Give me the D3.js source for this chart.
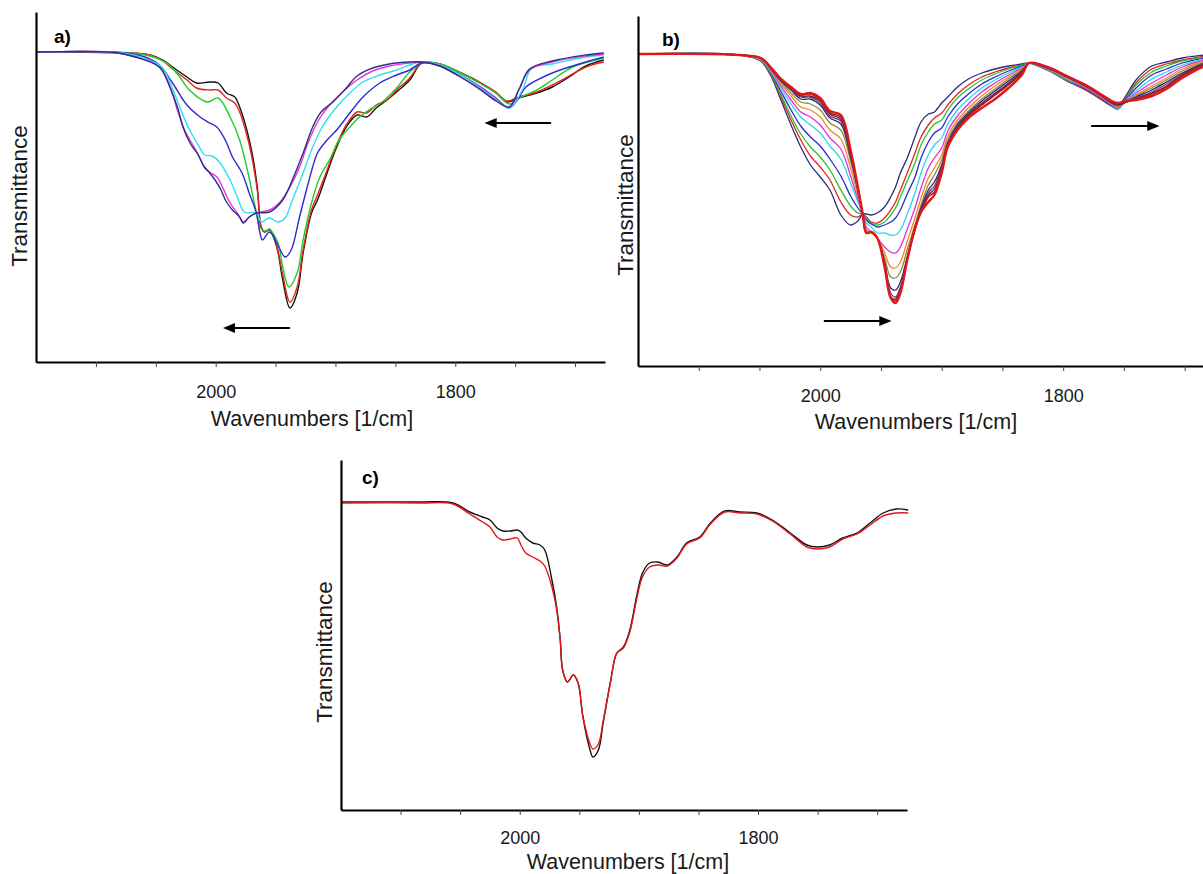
<!DOCTYPE html>
<html><head><meta charset="utf-8">
<script src="https://cdn.jsdelivr.net/npm/d3@7/dist/d3.min.js"></script>
<style>body{margin:0;background:#fff}svg{display:block;background:#fff}</style>
</head><body><svg id="c" width="1203" height="874"></svg>
<script>
// ---------- DATA (wavenumber [1/cm], transmittance in arbitrary units) ----------
const X_TICKS = [2100, 2050, 2000, 1950, 1900, 1850, 1800, 1750, 1700];
const X_LABELED = [2000, 1800];

// Panel a) – seven spectra
const A_BLACK = [[2150,310],[2072,309],[2055,307],[2044,302],[2036,295],[2024,285],[2016,279],[2005,280],[1998,279],[1991,269],[1984,265],[1980,255],[1974,232],[1969,205],[1965,172],[1962,135],[1959,130],[1955,132],[1949,115],[1944,82],[1938,54],[1932,69],[1927,109],[1920,149],[1915,162],[1907,189],[1899,215],[1891,235],[1882,247],[1874,245],[1866,254],[1857,262],[1849,270],[1838,282],[1828,299],[1813,298],[1797,290],[1780,280],[1766,269],[1757,260],[1747,264],[1732,269],[1719,275],[1705,285],[1691,296],[1676,302]];
const A_RED = [[2150,310],[2072,309],[2055,307],[2044,301],[2036,293],[2024,282],[2016,274],[2005,272],[1998,272],[1991,264],[1984,259],[1980,250],[1974,227],[1969,200],[1965,169],[1962,134],[1959,130],[1955,133],[1949,116],[1944,87],[1938,60],[1932,75],[1927,112],[1920,152],[1915,167],[1907,192],[1899,217],[1891,237],[1882,250],[1874,249],[1866,257],[1857,262],[1849,272],[1838,284],[1828,299],[1813,298],[1797,290],[1780,280],[1766,270],[1757,261],[1747,265],[1732,270],[1719,277],[1705,286],[1691,295],[1676,300]];
const A_GREEN = [[2150,310],[2076,309.5],[2055,306],[2041,299],[2030,285],[2022,272],[2007,260],[1998,264],[1988,245],[1980,222],[1973,189],[1967,155],[1963,135],[1959,131],[1955,132],[1948,119],[1944,95],[1939,75],[1932,89],[1927,122],[1920,159],[1913,185],[1905,202],[1897,222],[1888,235],[1880,245],[1872,252],[1861,260],[1849,274],[1838,290],[1828,299],[1813,298],[1797,290],[1780,279],[1766,269],[1755,258],[1747,264],[1732,272],[1719,282],[1702,295],[1676,304]];
const A_BLUE = [[2150,310],[2080,309.5],[2059,305],[2047,297],[2036,279],[2024,257],[2013,245],[2005,239],[1999,235],[1992,222],[1986,205],[1978,189],[1972,169],[1966,149],[1963,129],[1961,122],[1955,130],[1949,119],[1942,105],[1937,112],[1930,145],[1922,182],[1915,209],[1907,222],[1899,232],[1888,249],[1877,265],[1863,279],[1849,287],[1838,292],[1828,299],[1813,297],[1797,288],[1780,276],[1766,264],[1755,254],[1747,264],[1741,275],[1719,289],[1691,300],[1676,305]];
const A_CYAN = [[2150,310],[2082,309.5],[2063,305],[2045,295],[2038,279],[2030,255],[2023,235],[2016,220],[2009,207],[2003,206],[1997,200],[1988,182],[1982,165],[1976,150],[1966,149],[1962,140],[1955,144],[1948,140],[1942,144],[1936,162],[1927,189],[1919,215],[1911,235],[1899,255],[1888,269],[1877,280],[1863,287],[1849,292],[1838,297],[1828,300],[1813,297],[1797,288],[1780,275],[1766,263],[1755,254],[1744,272],[1736,294],[1719,298],[1691,305],[1676,307]];
const A_MAGENTA = [[2150,310],[2084,309.5],[2067,305],[2047,295],[2038,275],[2032,252],[2026,232],[2020,219],[2014,206],[2009,194],[2004,189],[1999,185],[1994,174],[1988,159],[1982,149],[1977,140],[1972,145],[1966,149],[1955,152],[1947,159],[1938,175],[1930,195],[1922,222],[1913,244],[1905,257],[1894,270],[1882,282],[1869,291],[1855,296],[1838,299],[1828,300],[1813,296],[1797,286],[1780,274],[1766,262],[1755,255],[1747,272],[1738,292],[1719,300],[1691,306],[1676,308]];
const A_NAVY = [[2150,310],[2084,309.5],[2067,305],[2047,295],[2038,274],[2032,255],[2027,234],[2021,218],[2015,208],[2010,196],[2005,189],[2000,181],[1996,173],[1991,160],[1986,152],[1980,145],[1977,139],[1972,145],[1966,149],[1955,150],[1944,162],[1936,182],[1927,209],[1919,235],[1912,250],[1902,260],[1891,274],[1882,286],[1869,294],[1855,298],[1838,300],[1828,300],[1813,296],[1797,286],[1780,273],[1766,261],[1755,255],[1747,272],[1738,293],[1719,301],[1691,307],[1676,309]];

// Panel b) – thirteen spectra on a shared wavenumber grid
const WN_B = [2150,2066,2049,2041,2033,2024,2016,2008,2000,1992,1983,1975,1969,1965,1962,1958,1953,1947,1942,1938,1934,1928,1922,1917,1911,1906,1900,1895,1887,1878,1867,1856,1845,1834,1828,1813,1797,1780,1768,1760,1755,1748,1740,1727,1715,1702,1683,1675];
const B01 = [312,311,305,291,268,241,219,201,189,176,151,141,145,152,152,151,153,159,169,179,193,209,229,244,252,254,263,269,279,287,293,297,300,302,303,296,285,275,266,260,259,271,286,300,304,308,311,312];
const B02 = [312,311,305,292,271,246,226,210,199,186,164,151,149,152,149,144,143,148,156,164,176,194,213,229,241,248,253,261,272,281,289,294,298,301,303,296,286,275,266,260,258,269,283,297,302,306,310,311];
const B03 = [312,311,306,293,273,250,232,219,209,196,176,160,153,152,148,143,141,144,151,158,169,186,203,221,234,242,246,256,268,277,286,292,297,301,303,296,286,276,267,260,257,268,281,294,300,305,309,310];
const B04 = [312,311,306,294,276,256,240,229,220,207,190,170,158,152,146,142,139,141,144,148,156,173,189,208,224,233,238,249,262,272,282,289,295,300,303,297,287,276,267,260,257,267,278,291,297,303,308,309];
const B05 = [312,311,306,295,279,262,249,241,233,220,207,183,164,152,143,139,133,133,131,131,136,153,173,193,211,221,228,242,256,267,278,286,293,299,303,297,287,277,268,261,257,266,275,287,294,301,307,308];
const B06 = [312,311,307,296,281,266,254,249,241,228,217,190,167,152,139,134,128,119,114,113,119,138,158,178,198,208,218,235,250,262,274,283,291,298,303,297,288,277,268,261,258,265,273,283,291,299,306,307];
const B07 = [312,311,307,297,283,270,259,256,249,236,227,198,171,152,136,133,128,113,99,98,104,126,148,168,188,198,211,230,246,258,270,280,289,297,303,298,288,278,269,262,259,264,271,280,288,297,305,306];
const B08 = [312,311,307,298,285,273,264,262,256,243,236,205,174,152,134,134,128,108,89,88,94,118,141,161,181,191,206,226,243,255,267,277,287,296,303,298,289,278,269,262,260,264,270,278,286,295,304,305];
const B09 = [312,311,308,298,286,276,267,267,261,248,242,209,176,152,133,134,128,104,78,76,84,111,138,158,176,184,201,223,241,253,265,275,285,295,303,298,289,279,270,263,261,264,269,276,284,293,303,304];
const B10 = [312,311,308,299,287,277,269,269,263,250,245,212,177,152,133,134,128,103,73,69,79,109,137,156,173,180,199,222,239,252,263,273,283,294,303,298,289,279,270,263,262,264,268,274,282,292,303,304];
const B11 = [312,311,308,299,287,278,270,270,265,252,247,213,178,152,133,134,128,101,69,67,77,109,136,155,171,177,197,221,238,251,262,272,282,294,303,299,290,279,270,264,262,264,267,273,280,291,302,303];
const B12 = [312,311,308,299,288,278,271,272,266,253,249,215,178,152,133,134,128,100,69,65,75,108,136,154,169,174,195,220,237,250,261,271,281,293,303,299,290,280,271,264,263,264,267,272,279,290,301,302];
const B13 = [312,311,308,299,288,279,272,273,268,255,251,216,179,152,133,134,128,99,68,63,73,108,138,154,164,171,193,219,236,248,258,267,278,291,303,299,290,280,271,265,263,265,266,270,277,288,300,302];

// Panel c) – two spectra
const C_BLACK = [[2150,308],[2084,308],[2056,307],[2042,298],[2031,293],[2025,290],[2019,282],[2014,279],[2008,279],[2002,280],[1999,278],[1995,272],[1989,267],[1983,265],[1979,260],[1973,230],[1969,203],[1966,170],[1964,140],[1960,128],[1955,135],[1951,127],[1947,93],[1941,60],[1938.6,53],[1934,60],[1930,87],[1924,127],[1918.5,157],[1913,163],[1907.6,180],[1902,213],[1897,237],[1891,247],[1884,248],[1876,245],[1868,253],[1860,267],[1849,273],[1840,287],[1828,299],[1815,298],[1801,297],[1788,290],[1773,277],[1759,265],[1750,263],[1740,265],[1729,272],[1717,277],[1706,287],[1695,297],[1684,301],[1674,300]];
const C_RED = [[2150,307],[2084,307],[2056,306],[2042,296],[2031,288],[2025,283],[2019,273],[2014,270],[2008,271],[2002,272],[1999,265],[1995,257],[1989,253],[1983,249],[1979,244],[1973,223],[1969,200],[1966,170],[1964,140],[1960,128],[1955,135],[1951,127],[1947,94],[1941,66],[1938.6,61],[1934,66],[1930,89],[1924,127],[1918.5,157],[1913,162],[1907.6,178],[1902,210],[1897,233],[1891,243],[1884,245],[1876,244],[1868,252],[1860,266],[1849,272],[1840,286],[1828,298],[1815,297],[1801,296],[1788,289],[1773,276],[1759,263],[1750,261],[1740,263],[1729,271],[1717,276],[1706,285],[1695,294],[1684,297],[1674,297]];

// Arrows (from, to) in data coordinates
const ARROWS_A = [[1938,34,1992,34],[1720,239,1773.5,239]];
const ARROWS_B = [[1997,45,1943.4,45],[1777,240,1722.8,240]];

const COLORS_A = ['#111111','#e5231c','#1fcc2a','#2a2ad6','#2ee0f2','#e232e2','#2f2f80'];
const COLORS_B = ['#2c2c7c','#e0251f','#27c32b','#2b2bd0','#2ad6f0','#e030dc','#f0862a','#8c8c36','#262678','#7d2f7d','#5a2a2a','#a51c1c','#e3161a'];
const COLORS_C = ['#111111','#e3161a'];

// ---------- DRAW ----------
const svg = d3.select('#c');
const defs = svg.append('defs');
defs.append('marker').attr('id','ah').attr('viewBox','0 0 10 10')
  .attr('refX',8).attr('refY',5).attr('markerWidth',5.5).attr('markerHeight',5.5)
  .attr('orient','auto')
  .append('path').attr('d','M0,0.8 L10,5 L0,9.2 Z').attr('fill','#000');

const FONT = "'Liberation Sans', Arial, sans-serif";

function drawPanel(p){
  const x = d3.scaleLinear().domain([2150,1675]).range([p.x0,p.x1]);
  const y = d3.scaleLinear().domain([0,350]).range([p.yb,p.yb-350]);
  const g = svg.append('g');
  const line = d3.line().x(d=>x(d[0])).y(d=>y(d[1])).curve(d3.curveCatmullRom.alpha(0.5));
  p.series.forEach((s,i)=>{
    g.append('path').attr('d',line(s)).attr('fill','none')
      .attr('stroke',p.colors[i]).attr('stroke-width', (p.widths && p.widths[i]) || 1.4)
      .attr('stroke-linejoin','round');
  });
  // x axis
  const ax = d3.axisBottom(x).tickValues(X_TICKS).tickSizeInner(5).tickSizeOuter(0)
     .tickPadding(p.tp).tickFormat(d=>X_LABELED.includes(d)? d3.format('d')(d):'');
  const gx = g.append('g').attr('transform',`translate(0,${p.yb})`).call(ax);
  gx.select('.domain').attr('stroke','#000').attr('stroke-width',2.2);
  gx.selectAll('.tick line').attr('stroke','#444').attr('stroke-width',1);
  gx.selectAll('.tick text').attr('font-family',FONT).attr('font-size',18).attr('fill','#1a1a1a');
  // y axis (line only)
  const ay = d3.axisLeft(y).tickValues([]).tickSizeOuter(0);
  const gy = g.append('g').attr('transform',`translate(${p.x0},0)`).call(ay);
  gy.select('.domain').attr('stroke','#000').attr('stroke-width',2.2);
  // titles
  g.append('text').attr('x',p.xt[0]).attr('y',p.xt[1]).attr('text-anchor','middle')
    .attr('dy','0.35em').attr('font-family',FONT).attr('font-size',21.5).attr('fill','#1a1a1a')
    .text('Wavenumbers [1/cm]');
  g.append('text').attr('transform',`translate(${p.yt[0]},${p.yt[1]}) rotate(-90)`)
    .attr('text-anchor','middle').attr('dy','0.35em').attr('font-family',FONT)
    .attr('font-size',22.5).attr('fill','#1a1a1a').text('Transmittance');
  g.append('text').attr('x',p.lab[0]).attr('y',p.lab[1]).attr('font-family',FONT)
    .attr('font-weight','bold').attr('font-size',19).attr('fill','#000').text(p.label);
  (p.arrows||[]).forEach(a=>{
    g.append('line').attr('x1',x(a[0])).attr('y1',y(a[1])).attr('x2',x(a[2])).attr('y2',y(a[3]))
      .attr('stroke','#000').attr('stroke-width',2.2).attr('marker-end','url(#ah)');
  });
}

const seriesB = [B01,B02,B03,B04,B05,B06,B07,B08,B09,B10,B11,B12,B13].map(v=>WN_B.map((w,i)=>[w,v[i]]));

drawPanel({label:'a)', series:[A_BLACK,A_RED,A_GREEN,A_BLUE,A_CYAN,A_MAGENTA,A_NAVY], colors:COLORS_A,
  x0:36, x1:605, yb:362, tp:18, xt:[312,418], yt:[19,196], lab:[54,43], arrows:ARROWS_A});
drawPanel({label:'b)', series:seriesB, colors:COLORS_B,
  widths:[1.3,1.3,1.3,1.3,1.3,1.3,1.3,1.3,1.3,1.3,1.3,1.5,2.4],
  x0:638, x1:1215, yb:366, tp:18, xt:[916,421], yt:[625,205], lab:[662,46], arrows:ARROWS_B});
drawPanel({label:'c)', series:[C_BLACK,C_RED], colors:COLORS_C,
  x0:341, x1:907, yb:810, tp:16, xt:[628,861], yt:[324,652], lab:[362,484]});
</script></body></html>
